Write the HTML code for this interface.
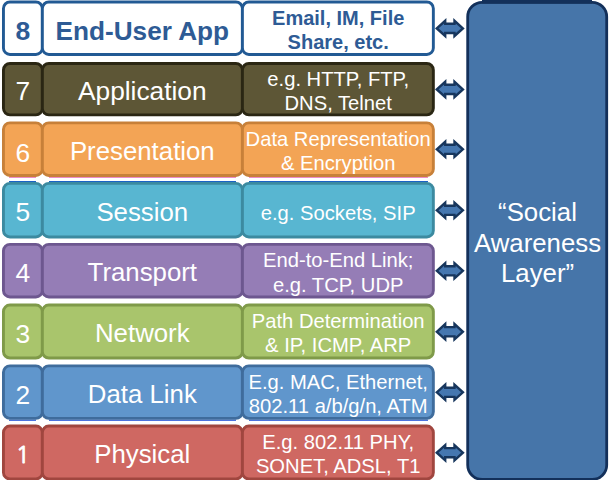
<!DOCTYPE html>
<html lang="en"><head><meta charset="utf-8"><title>Social Awareness Layer</title>
<style>
html,body{margin:0;padding:0;background:#fff;}
body{width:609px;height:480px;overflow:hidden;}
svg{display:block;}
text{font-family:"Liberation Sans",Arial,Helvetica,sans-serif;text-anchor:middle;}
.k{font-size:26.4px;}
.k1{font-family:"NanumGothic","IPAGothic","Liberation Sans",sans-serif;font-size:23.6px;stroke:#fff;stroke-width:0.8px;}
.n{font-size:25.8px;}
.n7{font-size:26.3px;}
.d{font-size:20.2px;}
.b{font-weight:bold;}
.d.b{font-size:20px;}
.k.b{font-size:26.5px;}
.n.b{font-size:26.2px;}
.big{font-size:25.8px;fill:#fff;}
</style></head><body>
<svg width="609" height="480" viewBox="0 0 609 480">
<rect x="9" y="176.9" width="27" height="0.8" fill="#e45bb0"/>
<rect x="9" y="181" width="27" height="1.1" fill="#1b62c4"/>
<rect x="9" y="419.6" width="27" height="1.2" fill="#2152d6"/>
<rect x="49" y="176.9" width="187" height="0.8" fill="#e45bb0"/>
<rect x="49" y="181" width="187" height="1.1" fill="#1b62c4"/>
<rect x="49" y="419.6" width="187" height="1.2" fill="#2152d6"/>
<rect x="249" y="176.9" width="179" height="0.8" fill="#e45bb0"/>
<rect x="249" y="181" width="179" height="1.1" fill="#1b62c4"/>
<rect x="249" y="419.6" width="179" height="1.2" fill="#2152d6"/>
<rect x="467.70" y="2.30" width="139.00" height="477.10" rx="14.5" ry="14.5" fill="#4675a9" stroke="#13305a" stroke-width="2.8"/>
<rect x="482" y="0" width="110" height="3.5" fill="#13305a"/>
<rect x="3.45" y="1.95" width="38.90" height="52.50" rx="6.5" ry="6.5" fill="#ffffff" stroke="#225a94" stroke-width="2.9"/>
<rect x="42.35" y="1.95" width="200.05" height="52.50" rx="6.5" ry="6.5" fill="#ffffff" stroke="#225a94" stroke-width="2.9"/>
<rect x="242.40" y="1.95" width="190.95" height="52.50" rx="6.5" ry="6.5" fill="#ffffff" stroke="#225a94" stroke-width="2.9"/>
<text class="k b" x="22.9" y="39.7" fill="#2e5b95">8</text>
<text class="n b" x="142.3" y="39.7" fill="#2e5b95">End-User App</text>
<text class="d b" x="338.2" y="24.9" fill="#2e5b95">Email, IM, File</text>
<text class="d b" x="338.2" y="48.5" fill="#2e5b95">Share, etc.</text>
<polygon points="436.8,28.4 445.2,20.8 445.2,23.8 454.5,23.8 454.5,20.8 462.9,28.4 454.5,36.0 454.5,33.0 445.2,33.0 445.2,36.0" fill="#4577b0" stroke="#17365d" stroke-width="2.4" stroke-linejoin="miter"/>
<rect x="3.45" y="63.45" width="38.90" height="51.40" rx="6.5" ry="6.5" fill="#5d5636" stroke="#2a2613" stroke-width="2.9"/>
<rect x="42.35" y="63.45" width="200.05" height="51.40" rx="6.5" ry="6.5" fill="#5d5636" stroke="#2a2613" stroke-width="2.9"/>
<rect x="242.40" y="63.45" width="190.95" height="51.40" rx="6.5" ry="6.5" fill="#5d5636" stroke="#2a2613" stroke-width="2.9"/>
<text class="k" x="22.9" y="100.0" fill="#ffffff">7</text>
<text class="n n7" x="142.3" y="99.5" fill="#ffffff">Application</text>
<text class="d" x="338.2" y="86.0" fill="#ffffff">e.g. HTTP, FTP,</text>
<text class="d" x="338.2" y="109.8" fill="#ffffff">DNS, Telnet</text>
<polygon points="436.8,89.4 445.2,81.8 445.2,84.8 454.5,84.8 454.5,81.8 462.9,89.4 454.5,97.0 454.5,94.0 445.2,94.0 445.2,97.0" fill="#4577b0" stroke="#17365d" stroke-width="2.4" stroke-linejoin="miter"/>
<rect x="3.45" y="122.85" width="38.90" height="52.60" rx="6.5" ry="6.5" fill="#f3a455" stroke="#c78039" stroke-width="2.9"/>
<rect x="42.35" y="122.85" width="200.05" height="52.60" rx="6.5" ry="6.5" fill="#f3a455" stroke="#c78039" stroke-width="2.9"/>
<rect x="242.40" y="122.85" width="190.95" height="52.60" rx="6.5" ry="6.5" fill="#f3a455" stroke="#c78039" stroke-width="2.9"/>
<text class="k" x="22.9" y="161.5" fill="#ffffff">6</text>
<text class="n" x="142.3" y="160.2" fill="#ffffff">Presentation</text>
<text class="d" x="338.2" y="145.5" fill="#ffffff">Data Representation</text>
<text class="d" x="338.2" y="169.8" fill="#ffffff">&amp; Encryption</text>
<polygon points="436.8,149.3 445.2,141.8 445.2,144.8 454.5,144.8 454.5,141.8 462.9,149.3 454.5,156.9 454.5,153.9 445.2,153.9 445.2,156.9" fill="#4577b0" stroke="#17365d" stroke-width="2.4" stroke-linejoin="miter"/>
<rect x="3.45" y="183.35" width="38.90" height="53.60" rx="6.5" ry="6.5" fill="#58b6d1" stroke="#3c8aa0" stroke-width="2.9"/>
<rect x="42.35" y="183.35" width="200.05" height="53.60" rx="6.5" ry="6.5" fill="#58b6d1" stroke="#3c8aa0" stroke-width="2.9"/>
<rect x="242.40" y="183.35" width="190.95" height="53.60" rx="6.5" ry="6.5" fill="#58b6d1" stroke="#3c8aa0" stroke-width="2.9"/>
<text class="k" x="22.9" y="220.5" fill="#ffffff">5</text>
<text class="n" x="142.3" y="220.5" fill="#ffffff">Session</text>
<text class="d" x="338.2" y="219.6" fill="#ffffff">e.g. Sockets, SIP</text>
<polygon points="436.8,210.3 445.2,202.8 445.2,205.8 454.5,205.8 454.5,202.8 462.9,210.3 454.5,217.9 454.5,214.9 445.2,214.9 445.2,217.9" fill="#4577b0" stroke="#17365d" stroke-width="2.4" stroke-linejoin="miter"/>
<rect x="3.45" y="244.35" width="38.90" height="52.60" rx="6.5" ry="6.5" fill="#957db6" stroke="#6d578f" stroke-width="2.9"/>
<rect x="42.35" y="244.35" width="200.05" height="52.60" rx="6.5" ry="6.5" fill="#957db6" stroke="#6d578f" stroke-width="2.9"/>
<rect x="242.40" y="244.35" width="190.95" height="52.60" rx="6.5" ry="6.5" fill="#957db6" stroke="#6d578f" stroke-width="2.9"/>
<text class="k" x="22.9" y="282.1" fill="#ffffff">4</text>
<text class="n" x="142.3" y="281.4" fill="#ffffff">Transport</text>
<text class="d" x="338.2" y="267.2" fill="#ffffff">End-to-End Link;</text>
<text class="d" x="338.2" y="291.9" fill="#ffffff">e.g. TCP, UDP</text>
<polygon points="436.8,270.8 445.2,263.2 445.2,266.2 454.5,266.2 454.5,263.2 462.9,270.8 454.5,278.4 454.5,275.4 445.2,275.4 445.2,278.4" fill="#4577b0" stroke="#17365d" stroke-width="2.4" stroke-linejoin="miter"/>
<rect x="3.45" y="305.05" width="38.90" height="53.00" rx="6.5" ry="6.5" fill="#a9c56c" stroke="#7f9a49" stroke-width="2.9"/>
<rect x="42.35" y="305.05" width="200.05" height="53.00" rx="6.5" ry="6.5" fill="#a9c56c" stroke="#7f9a49" stroke-width="2.9"/>
<rect x="242.40" y="305.05" width="190.95" height="53.00" rx="6.5" ry="6.5" fill="#a9c56c" stroke="#7f9a49" stroke-width="2.9"/>
<text class="k" x="22.9" y="342.9" fill="#ffffff">3</text>
<text class="n" x="142.3" y="341.9" fill="#ffffff">Network</text>
<text class="d" x="338.2" y="327.9" fill="#ffffff">Path Determination</text>
<text class="d" x="338.2" y="352.2" fill="#ffffff">&amp; IP, ICMP, ARP</text>
<polygon points="436.8,331.8 445.2,324.1 445.2,327.1 454.5,327.1 454.5,324.1 462.9,331.8 454.5,339.4 454.5,336.4 445.2,336.4 445.2,339.4" fill="#4577b0" stroke="#17365d" stroke-width="2.4" stroke-linejoin="miter"/>
<rect x="3.45" y="365.85" width="38.90" height="52.50" rx="6.5" ry="6.5" fill="#6096cc" stroke="#3f6c9c" stroke-width="2.9"/>
<rect x="42.35" y="365.85" width="200.05" height="52.50" rx="6.5" ry="6.5" fill="#6096cc" stroke="#3f6c9c" stroke-width="2.9"/>
<rect x="242.40" y="365.85" width="190.95" height="52.50" rx="6.5" ry="6.5" fill="#6096cc" stroke="#3f6c9c" stroke-width="2.9"/>
<text class="k" x="22.9" y="403.5" fill="#ffffff">2</text>
<text class="n" x="142.3" y="403.3" fill="#ffffff">Data Link</text>
<text class="d" x="338.2" y="389.0" fill="#ffffff">E.g. MAC, Ethernet,</text>
<text class="d" x="338.2" y="412.7" fill="#ffffff">802.11 a/b/g/n, ATM</text>
<polygon points="436.8,392.3 445.2,384.7 445.2,387.7 454.5,387.7 454.5,384.7 462.9,392.3 454.5,399.9 454.5,396.9 445.2,396.9 445.2,399.9" fill="#4577b0" stroke="#17365d" stroke-width="2.4" stroke-linejoin="miter"/>
<rect x="3.45" y="426.05" width="38.90" height="52.90" rx="6.5" ry="6.5" fill="#cf6862" stroke="#a0463f" stroke-width="2.9"/>
<rect x="42.35" y="426.05" width="200.05" height="52.90" rx="6.5" ry="6.5" fill="#cf6862" stroke="#a0463f" stroke-width="2.9"/>
<rect x="242.40" y="426.05" width="190.95" height="52.90" rx="6.5" ry="6.5" fill="#cf6862" stroke="#a0463f" stroke-width="2.9"/>
<text class="k k1" x="23.0" y="462.6" fill="#ffffff">1</text>
<text class="n" x="142.3" y="462.8" fill="#ffffff">Physical</text>
<text class="d" x="338.2" y="448.8" fill="#ffffff">E.g. 802.11 PHY,</text>
<text class="d" x="338.2" y="473.1" fill="#ffffff">SONET, ADSL, T1</text>
<polygon points="436.8,452.7 445.2,445.1 445.2,448.1 454.5,448.1 454.5,445.1 462.9,452.7 454.5,460.3 454.5,457.3 445.2,457.3 445.2,460.3" fill="#4577b0" stroke="#17365d" stroke-width="2.4" stroke-linejoin="miter"/>
<text class="big" x="537.5" y="220.5">“Social</text>
<text class="big" x="537.5" y="251.7">Awareness</text>
<text class="big" x="537.5" y="282">Layer”</text>
</svg>
</body></html>
